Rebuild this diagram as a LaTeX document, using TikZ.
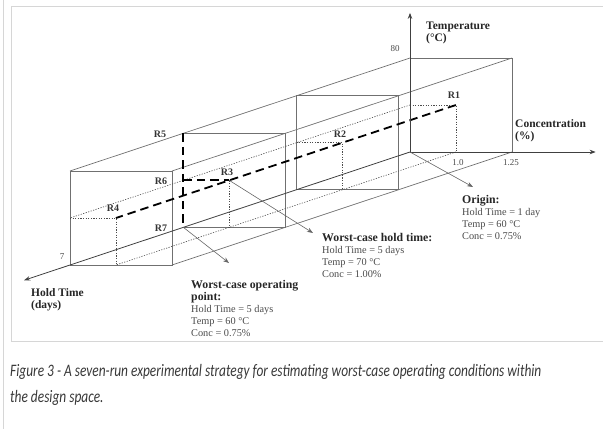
\documentclass[tikz,border=0pt]{standalone}
\usepackage{fontspec}
\setmainfont{Liberation Serif}
\newfontfamily\capfont[FakeStretch=0.765]{Carlito}
\usetikzlibrary{arrows.meta}

\definecolor{edgegray}{HTML}{707070}
\definecolor{framegray}{HTML}{D6D6D6}
\definecolor{textgray}{HTML}{4A4A4A}
\definecolor{capgray}{HTML}{383838}

\newcommand\notehead[1]{{\fontsize{11.8}{11.8}\selectfont\bfseries\color{black!85}#1}}

\tikzset{
  edge/.style={draw=edgegray, line width=0.7pt},
  axis/.style={draw=black!75, line width=0.8pt, -{Stealth[length=6pt,width=4.5pt]}},
  guide/.style={draw=black!70, line width=0.6pt, dash pattern=on 1.2pt off 1.4pt},
  runpath/.style={draw=black, line width=1.8pt, dash pattern=on 8.5pt off 5pt},
  pointer/.style={draw=black!60, line width=0.6pt, -{Stealth[length=6pt,width=4.5pt]}},
  runlbl/.style={font=\fontsize{10}{10}\selectfont\bfseries, text=black!80, inner sep=0pt},
  ticklbl/.style={font=\fontsize{9}{9}\selectfont, text=textgray, inner sep=0pt},
  axlbl/.style={font=\fontsize{11.5}{11.8}\selectfont\bfseries, text=black!85, align=left, inner sep=0pt},
  note/.style={font=\fontsize{10.3}{11.8}\selectfont, text=textgray, align=left, inner sep=0pt},
  captext/.style={font=\capfont\itshape\fontsize{17.5}{17.5}\selectfont, text=capgray, anchor=base west, inner sep=0pt}
}

\begin{document}
\begin{tikzpicture}[x=1pt, y=1pt]

\useasboundingbox (0,0) rectangle (603,-429);

%% Page frame
\draw[framegray, line width=0.8pt] (604,-6) -- (11,-6) -- (11,-341) -- (604,-341);
\draw[framegray, line width=0.8pt] (3,0) -- (3,-429);

%% Design space (conc, temp, hold)
\begin{scope}[shift={(410pt,-152pt)}, x={(102pt,0pt)}, y={(0pt,94pt)}, z={(-340pt,-113pt)}]
\coordinate (O) at (0,0,0);
\coordinate (Ttip) at (0,1.48,0);
\coordinate (Ctip) at (1.82,0,0);
\coordinate (Htip) at (0,0,1.135);
\coordinate (R1) at (0.45,0.5,0);
\coordinate (R2) at (0.45,0.5,1/3);
\coordinate (R3) at (0.45,0.5,2/3);
\coordinate (R4) at (0.45,0.5,1);
\coordinate (R5) at (0,1,2/3);
\coordinate (R6) at (0,0.5,2/3);
\coordinate (R7) at (0,0,2/3);

% faces at 1, 3 and 7 days
\foreach \h in {0,1/3,1}
  \draw[edge] (0,0,\h) -- (1,0,\h) -- (1,1,\h) -- (0,1,\h) -- cycle;
% face at 5 days
\draw[edge] (R7) -- (1,0,2/3) -- (1,1,2/3) -- (R5);

% long edges
\foreach \c/\t in {0/1,1/1,1/0}
  \draw[edge] (\c,\t,0) -- (\c,\t,1);

% dotted guides
\draw[guide] (0,0.5,0) -- (0,0.5,1);
\draw[guide] (0.45,0,0) -- (0.45,0,1);
\foreach \h/\r in {0/R1,0.33333/R2,1/R4}
  \draw[guide] (0,0.5,\h) -- (\r) -- (0.45,0,\h);
\draw[guide] (R3) -- (0.45,0,2/3);
\end{scope}

%% Runs
\draw[runpath] (R1) -- (R4);
\draw[runpath] (R5) -- (R7);
\draw[runpath] (R6) -- (R3);

%% Axes
\draw[axis] (O) -- (Ttip);
\draw[axis] (O) -- (Ctip);
\draw[axis] (O) -- (Htip);

\node[axlbl, anchor=west] (templbl) at (426,-33) {Temperature\\(°C)};
\node[axlbl, anchor=west] (conclbl) at (515,-130.5) {Concentration\\(\%)};
\node[axlbl, anchor=west] (holdlbl) at (31,-300) {Hold Time\\(days)};

\node[ticklbl] (t80) at (395,-49) {80};
\node[ticklbl] (c10) at (458,-163) {1.0};
\node[ticklbl] (c125) at (511,-163) {1.25};
\node[ticklbl] (h7) at (62,-257) {7};

%% Run labels
\node[runlbl] (lR1) at (454,-95) {R1};
\node[runlbl] (lR2) at (340,-134) {R2};
\node[runlbl] (lR3) at (227,-172) {R3};
\node[runlbl] (lR4) at (113,-208) {R4};
\node[runlbl] (lR5) at (160,-134) {R5};
\node[runlbl] (lR6) at (161,-181) {R6};
\node[runlbl] (lR7) at (161,-228) {R7};

%% Notes
\coordinate (origtip) at (473,-187);
\coordinate (holdtip) at (313,-233);
\coordinate (worsttip) at (229,-263);
\draw[pointer] (O) -- (origtip);
\draw[pointer] (R3) -- (holdtip);
\draw[pointer] (R7) -- (worsttip);

\node[note, anchor=west] (orignote) at (462,-217.5)
  {\notehead{Origin:}\\Hold Time = 1 day\\Temp = 60 °C\\Conc = 0.75\%};
\node[note, anchor=west] (holdnote) at (322,-255.5)
  {\notehead{Worst-case hold time:}\\Hold Time = 5 days\\Temp = 70 °C\\Conc = 1.00\%};
\node[note, anchor=west] (worstnote) at (191,-308.5)
  {\notehead{Worst-case operating}\\\notehead{point:}\\Hold Time = 5 days\\Temp = 60 °C\\Conc = 0.75\%};

%% Caption
\node[captext] (cap1) at (10,-376)
  {Figure 3 - A seven-run experimental strategy for estimating worst-case operating conditions within};
\node[captext] (cap2) at (10,-402) {the design space.};

\end{tikzpicture}
\end{document}
